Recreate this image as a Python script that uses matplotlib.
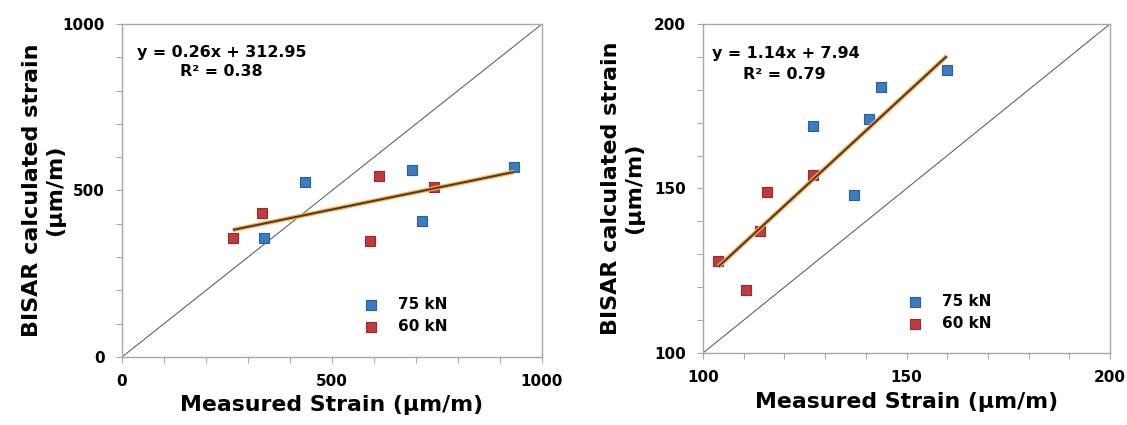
import matplotlib
matplotlib.use("Agg")
import matplotlib.pyplot as plt
import numpy as np
from matplotlib.ticker import MultipleLocator

plt.rcParams['font.family'] = ['DejaVu Sans']
plt.rcParams['font.weight'] = 'bold'

# Panel 1: full strain range
p1_75_x = [436, 337, 691, 714, 934]
p1_75_y = [525, 358, 563, 409, 570]
p1_60_x = [264, 334, 590, 611, 742]
p1_60_y = [358, 432, 348, 544, 512]
p1_slope, p1_icpt, p1_r2 = 0.26, 312.95, 0.38
p1_lim = (0, 1000)
p1_ticks = [0, 500, 1000]

# Panel 2: low strain range
p2_75_x = [127.0, 140.7, 143.8, 159.9, 137.0]
p2_75_y = [169.0, 171.0, 181.0, 186.0, 147.9]
p2_60_x = [103.75, 110.5, 113.9, 115.7, 127.0]
p2_60_y = [127.9, 119.0, 137.0, 148.9, 154.1]
p2_slope, p2_icpt, p2_r2 = 1.14, 7.94, 0.79
p2_lim = (100, 200)
p2_ticks = [100, 150, 200]

series_names = ['75 kN', '60 kN']

BLUE = '#3b7cc4'
BLUE_EDGE = '#2a5f9e'
RED = '#c23a3e'
RED_EDGE = '#962a2e'

fig = plt.figure(figsize=(11.27, 4.25), dpi=100)
W, H = 1127, 425


def frac(x0, x1, y_top, y_bot):
    return [x0 / W, 1 - y_bot / H, (x1 - x0) / W, (y_bot - y_top) / H]


ax1 = fig.add_axes(frac(122, 542, 24, 357))
ax2 = fig.add_axes(frac(703, 1110, 24, 353))


def draw(ax, x75, y75, x60, y60, slope, icpt, r2, lim, ticks, minor,
         eq_pos, r2_pos, leg_pos, leg_pad, ylab_x, xlab_y):
    ax.plot(lim, lim, color='#505050', lw=0.7, zorder=2)
    ax.scatter(x75, y75, marker='s', s=55, color=BLUE, edgecolor=BLUE_EDGE,
               linewidth=0.8, zorder=3, label=series_names[0])
    ax.scatter(x60, y60, marker='s', s=55, color=RED, edgecolor=RED_EDGE,
               linewidth=0.8, zorder=3, label=series_names[1])
    allx = np.array(list(x75) + list(x60))
    tx = np.array([allx.min(), allx.max()])
    ty = slope * tx + icpt
    ax.plot(tx, ty, color='#f0b060', lw=3.2, zorder=4, solid_capstyle='butt')
    ax.plot(tx, ty, color='#5a3512', lw=1.4, zorder=5, solid_capstyle='butt')
    ax.set_xlim(lim)
    ax.set_ylim(lim)
    ax.set_xticks(ticks)
    ax.set_yticks(ticks)
    ax.xaxis.set_minor_locator(MultipleLocator(minor))
    ax.yaxis.set_minor_locator(MultipleLocator(minor))
    ax.tick_params(which='both', direction='out', color='#a8a8a8', labelsize=11,
                   length=4, width=0.8, pad=8.5)
    for lab in ax.get_xticklabels() + ax.get_yticklabels():
        lab.set_fontweight('bold')
    for sp in ax.spines.values():
        sp.set_color('#a8a8a8')
        sp.set_linewidth(1.0)
    ax.set_xlabel('Measured Strain (\u03bcm/m)', fontsize=15.8, fontweight='bold',
                  va='center')
    ax.xaxis.set_label_coords(0.5, xlab_y)
    ax.set_ylabel('BISAR calculated strain\n(\u03bcm/m)', fontsize=16,
                  fontweight='bold', linespacing=1.2, va='center')
    ax.yaxis.set_label_coords(ylab_x, 0.5)
    ax.text(eq_pos[0], eq_pos[1], f'y = {slope:.2f}x + {icpt:.2f}',
            transform=ax.transAxes, fontsize=11.4, fontweight='bold',
            va='center', ha='left')
    ax.text(r2_pos[0], r2_pos[1], f'R\u00b2 = {r2:.2f}',
            transform=ax.transAxes, fontsize=11.4, fontweight='bold',
            va='center', ha='left')
    ax.legend(loc='center left', bbox_to_anchor=leg_pos, frameon=False,
              borderpad=0, borderaxespad=0, handlelength=0.8,
              handletextpad=leg_pad, labelspacing=0.5,
              prop={'weight': 'bold', 'size': 11})
    return ax


draw(ax1, p1_75_x, p1_75_y, p1_60_x, p1_60_y, p1_slope, p1_icpt, p1_r2,
     p1_lim, p1_ticks, 100,
     eq_pos=(0.036, 0.913), r2_pos=(0.137, 0.856),
     leg_pos=(0.579, 0.125), leg_pad=1.37,
     ylab_x=-0.186, xlab_y=-0.144)
draw(ax2, p2_75_x, p2_75_y, p2_60_x, p2_60_y, p2_slope, p2_icpt, p2_r2,
     p2_lim, p2_ticks, 10,
     eq_pos=(0.022, 0.909), r2_pos=(0.098, 0.845),
     leg_pos=(0.507, 0.123), leg_pad=1.33,
     ylab_x=-0.197, xlab_y=-0.15)

fig.savefig('out.png', dpi=100)
